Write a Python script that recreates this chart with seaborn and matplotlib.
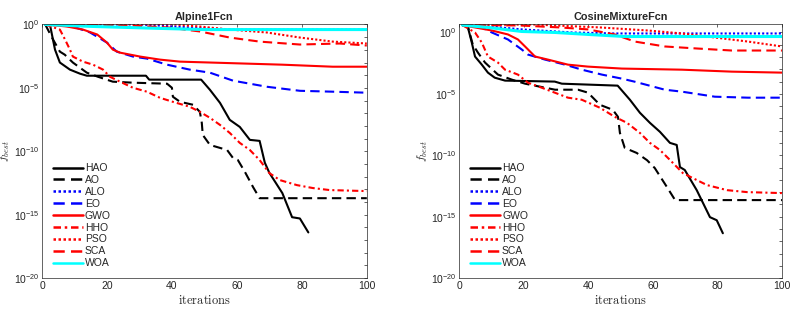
import numpy as np
import pandas as pd
import seaborn as sns
import matplotlib
matplotlib.use('Agg')
import matplotlib.pyplot as plt
from matplotlib.ticker import LogLocator, FixedLocator, NullFormatter

sns.set_style('white')
plt.rcParams['font.family'] = ['Liberation Sans', 'DejaVu Sans']
plt.rcParams['mathtext.fontset'] = 'cm'

# convergence curves: iteration, log10(f_best)
# --- Alpine1Fcn ---
a_hao_it = [1, 2.5, 4, 5.5, 8.6, 11.7, 13.8, 32, 33, 49, 51.7, 54.8, 57.8, 60.9, 64, 67, 68.6, 70, 74, 77, 79.4, 82]
a_hao_lg = [0, -0.08, -1.98, -3.0, -3.56, -3.88, -4.04, -4.04, -4.35, -4.35, -5.15, -6.18, -7.52, -8.08, -9.1, -9.18, -10.9, -11.7, -13.3, -15.2, -15.3, -16.4]
a_ao_it = [1, 3, 5.5, 7, 9.5, 13.8, 17.2, 21.8, 28, 38.5, 40, 40.3, 42.5, 46.5, 48.6, 49.2, 49.5, 51.7, 57, 58.8, 60.3, 62.5, 65, 67, 100]
a_ao_lg = [0, -1.0, -2.14, -2.38, -3.0, -3.8, -4.12, -4.51, -4.59, -4.67, -4.99, -5.7, -6.1, -6.33, -6.89, -7.76, -8.71, -9.5, -9.9, -10.53, -10.69, -11.64, -12.83, -13.7, -13.7]
a_alo_it = [1, 30, 50, 60, 100]
a_alo_lg = [0, 0, -0.3, -0.4, -0.4]
a_eo_it = [1, 9.5, 14.8, 20, 23, 28, 32.3, 38.5, 45.5, 51.7, 58.8, 69.2, 79.4, 89.5, 100]
a_eo_lg = [0, -0.16, -0.63, -1.43, -2.14, -2.53, -2.69, -3.17, -3.56, -3.8, -4.43, -4.91, -5.23, -5.3, -5.38]
a_gwo_it = [1, 7.7, 12.6, 17, 20, 21.8, 24, 30.2, 36.3, 42.5, 51.7, 74, 89.5, 100]
a_gwo_lg = [0, -0.16, -0.4, -0.79, -1.43, -1.98, -2.22, -2.53, -2.77, -2.93, -3.0, -3.17, -3.33, -3.33]
a_hho_it = [1, 5.5, 7.1, 8.6, 9.5, 12.6, 15.7, 18.8, 20.9, 24, 28, 32.3, 36.3, 40.3, 45.5, 48.6, 51.7, 54.8, 57.8, 60.9, 64, 67, 70, 73.2, 78.5, 83.4, 88.6, 100]
a_hho_lg = [0, -0.4, -1.19, -1.98, -2.53, -2.93, -3.17, -3.56, -4.12, -4.51, -4.99, -5.3, -5.78, -6.1, -6.49, -6.89, -7.36, -7.92, -8.55, -9.34, -9.9, -10.69, -11.72, -12.27, -12.67, -12.9, -13.06, -13.14]
a_pso_it = [1, 40, 48.6, 57.8, 69.2, 79.4, 89.5, 100]
a_pso_lg = [0.05, 0.02, -0.16, -0.4, -0.63, -1.03, -1.35, -1.5]
a_sca_it = [1, 27, 39, 48.6, 57.8, 67, 79.4, 91.7, 100]
a_sca_lg = [0, -0.08, -0.24, -0.55, -1.03, -1.35, -1.58, -1.5, -1.66]
a_woa_it = [1, 15, 35, 50, 100]
a_woa_lg = [0, -0.15, -0.3, -0.4, -0.4]

# --- CosineMixtureFcn ---
c_hao_it = [1, 2.7, 3.9, 4.9, 7, 8.9, 11, 14.2, 29.6, 31.8, 49.1, 52.9, 56, 59.1, 62.2, 65.3, 67.4, 68.4, 69.9, 73.6, 77.7, 79.8, 81.7]
c_hao_lg = [0.6, 0.41, -0.82, -1.96, -2.62, -3.27, -3.68, -3.92, -4.0, -4.17, -4.33, -5.48, -6.54, -7.36, -8.09, -8.99, -9.16, -10.96, -11.2, -12.84, -15.04, -15.29, -16.35]
c_ao_it = [1, 2.7, 4.2, 5.8, 8, 12, 16.3, 20.4, 29.7, 36.8, 39.9, 43.6, 47.6, 49.2, 49.8, 51.3, 55, 58.2, 60.6, 64.4, 66.9, 100]
c_ao_lg = [0.6, 0.49, -0.98, -1.64, -2.45, -3.43, -3.84, -4.17, -4.66, -4.66, -4.9, -5.89, -6.3, -6.87, -8.18, -9.4, -9.81, -10.4, -11.04, -12.6, -13.65, -13.65]
c_alo_it = [1, 9.5, 19.4, 34.9, 48.2, 100]
c_alo_lg = [0.6, 0.49, 0.25, 0, -0.08, -0.08]
c_eo_it = [1, 7, 10.1, 15.1, 19.4, 21.3, 26.6, 32.8, 38, 44.2, 50.4, 54.4, 63.7, 69, 79.2, 89.5, 100]
c_eo_lg = [0.6, 0.41, 0, -0.57, -1.39, -1.8, -2.21, -2.62, -3.03, -3.43, -3.76, -4.01, -4.66, -4.82, -5.23, -5.31, -5.31]
c_gwo_it = [1, 4.9, 10.1, 15.1, 18.2, 20.4, 23.5, 27.5, 33.7, 39.9, 50.4, 69, 84.5, 100]
c_gwo_lg = [0.6, 0.41, 0.16, -0.16, -0.57, -1.14, -1.96, -2.21, -2.62, -2.78, -2.94, -3.03, -3.19, -3.27]
c_hho_it = [1, 4.9, 7, 8.9, 12, 14.2, 18.2, 21.3, 25.6, 29.7, 33.7, 38, 43.6, 48.2, 52, 56, 59.1, 62.2, 65.3, 69.3, 72.4, 76.8, 83, 89.2, 100]
c_hho_lg = [0.6, 0, -0.82, -1.96, -2.45, -3.03, -3.43, -4.09, -4.5, -4.91, -5.31, -5.48, -6.13, -6.87, -7.36, -8.18, -8.99, -9.57, -10.38, -11.45, -11.86, -12.43, -12.84, -13.0, -13.08]
c_pso_it = [1, 23, 43.6, 58.5, 69, 79.2, 89.5, 100]
c_pso_lg = [0.6, 0.65, 0.41, 0.16, -0.08, -0.41, -0.74, -1.14]
c_sca_it = [1, 18.8, 31.2, 39.9, 48.2, 54.4, 63.7, 74, 84.5, 100]
c_sca_lg = [0.6, 0.57, 0.41, 0.25, -0.16, -0.74, -1.14, -1.31, -1.47, -1.47]
c_woa_it = [1, 8.9, 19.4, 29.7, 39.9, 51.3, 100]
c_woa_lg = [0.6, 0.41, 0.08, 0, -0.16, -0.33, -0.33]

names = ['HAO', 'AO', 'ALO', 'EO', 'GWO', 'HHO', 'PSO', 'SCA', 'WOA']
colors = ['black', 'black', '#0000ff', '#0000ff', '#ff0000', '#ff0000', '#ff0000', '#ff0000', '#00ffff']
dash_styles = [None, (4.5, 2.5), (1, 1), (4.5, 2.5), None, (3, 1.5, 1, 1.5), (1, 1), (4.5, 2.5), None]
widths = [1.5, 1.5, 1.5, 1.5, 1.5, 1.5, 1.5, 1.5, 2.2]

panels = [
    ('Alpine1Fcn', 0.0,
     [(a_hao_it, a_hao_lg), (a_ao_it, a_ao_lg), (a_alo_it, a_alo_lg), (a_eo_it, a_eo_lg),
      (a_gwo_it, a_gwo_lg), (a_hho_it, a_hho_lg), (a_pso_it, a_pso_lg), (a_sca_it, a_sca_lg),
      (a_woa_it, a_woa_lg)]),
    ('CosineMixtureFcn', 0.65,
     [(c_hao_it, c_hao_lg), (c_ao_it, c_ao_lg), (c_alo_it, c_alo_lg), (c_eo_it, c_eo_lg),
      (c_gwo_it, c_gwo_lg), (c_hho_it, c_hho_lg), (c_pso_it, c_pso_lg), (c_sca_it, c_sca_lg),
      (c_woa_it, c_woa_lg)]),
]

fig = plt.figure(figsize=(8, 3.1), dpi=100)
axes = [fig.add_axes([0.0525, 0.103, 0.406, 0.818]),
        fig.add_axes([0.574, 0.103, 0.4034, 0.818])]

axis_col = '#262626'
for ax, (title, top, curves) in zip(axes, panels):
    for name, col, ds, lw, (it, lg) in zip(names, colors, dash_styles, widths, curves):
        df = pd.DataFrame({'iter': it, 'f': 10.0 ** np.array(lg)})
        sns.lineplot(data=df, x='iter', y='f', ax=ax, color=col, lw=lw,
                     estimator=None, sort=False, label=name)
        line = ax.get_lines()[-1]
        if ds is not None:
            line.set_dashes(ds)
    ax.set_yscale('log')
    ax.set_xlim(0, 100)
    ax.set_ylim(1e-20, 10 ** top)
    ax.yaxis.set_major_locator(FixedLocator([1e-20, 1e-15, 1e-10, 1e-5, 1e0]))
    ax.yaxis.set_minor_locator(LogLocator(base=10, numticks=40))
    ax.yaxis.set_minor_formatter(NullFormatter())
    ax.set_xticks([0, 20, 40, 60, 80, 100])
    ax.tick_params(which='both', direction='in', top=True, right=True,
                   length=2.5, width=0.5, color=axis_col, labelsize=7.5,
                   labelcolor=axis_col, pad=2)
    for s in ax.spines.values():
        s.set_color(axis_col)
        s.set_linewidth(0.5)
    ax.set_title(title, fontsize=7.8, fontweight='bold', pad=3)
    ax.set_xlabel(r'$\mathrm{iterations}$', fontsize=9, labelpad=2.5)
    ax.set_ylabel(r'$f_{best}$', fontsize=8.5)
    ax.yaxis.set_label_coords(-0.092, 0.5)
    leg = ax.legend(loc='lower left', bbox_to_anchor=(0.01, 0.01), frameon=False,
                    fontsize=7.5, handlelength=2.9, handletextpad=0.2,
                    labelspacing=0.18, borderaxespad=0.3)
    for h in leg.get_lines():
        h.set_linewidth(1.8)

fig.savefig('out.png', dpi=100)
